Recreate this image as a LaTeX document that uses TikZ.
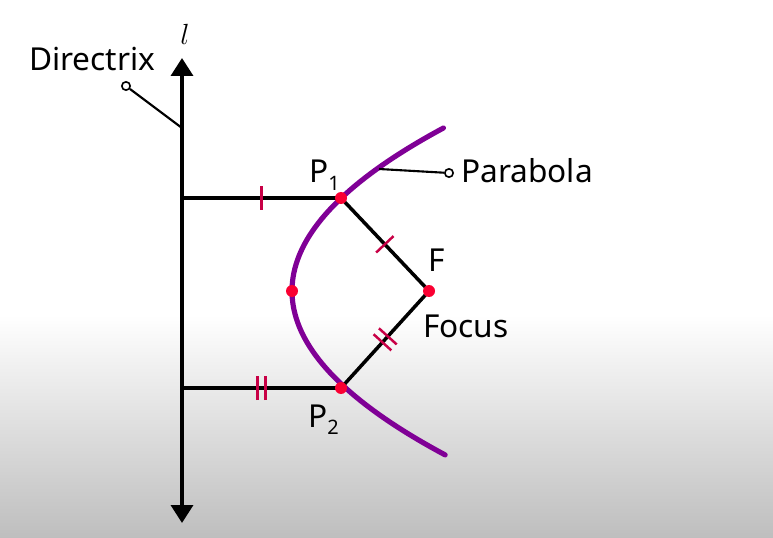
\documentclass[tikz,border=0pt]{standalone}
\usepackage{fontspec}
\setmainfont{Noto Sans}
\usetikzlibrary{arrows.meta,decorations.markings}
\definecolor{curvecol}{RGB}{128,0,150}
\definecolor{dotcol}{RGB}{250,0,50}
\definecolor{tickcol}{RGB}{200,0,70}
\definecolor{bggray}{RGB}{190,190,190}

\begin{document}
\begin{tikzpicture}[
  x=0.03cm, y=-0.03cm,
  lbl/.style={font=\fontsize{27}{30}\selectfont,inner sep=0pt},
  seg/.style={line width=3pt,black},
  axis/.style={line width=3pt,black,{Triangle[length=0.54cm,width=0.66cm]}-{Triangle[length=0.54cm,width=0.66cm]}},
  curve/.style={line width=4.4pt,curvecol,line cap=round},
  pin/.style={line width=1.8pt,black},
  pinend/.style={circle,draw=black,line width=1.4pt,fill=white,inner sep=0pt,minimum size=0.25cm},
  dot/.style={circle,fill=dotcol,inner sep=0pt,minimum size=0.36cm},
  tickline/.style={line width=2.1pt,tickcol},
  onetick/.style={postaction={decorate,decoration={markings,
      mark=at position 0.5 with {\draw[tickline] (0,-0.36cm) -- (0,0.36cm);}}}},
  twotick/.style={postaction={decorate,decoration={markings,
      mark=at position 0.5 with {\draw[tickline] (-0.12cm,-0.36cm) -- (-0.12cm,0.36cm);
                                 \draw[tickline] (0.12cm,-0.36cm) -- (0.12cm,0.36cm);}}}},
]
\useasboundingbox (0,0) rectangle (773,538);
% background
\fill[white] (0,0) rectangle (773,316);
\shade[top color=white,bottom color=bggray] (0,315) rectangle (773,538);

% directrix
\coordinate (ltop) at (182,58);
\coordinate (lbot) at (182,523);
\draw[axis] (lbot) -- (ltop);
\node[font=\fontsize{26}{28}\selectfont] (lname) at (185,34) {$l$};

% points
\coordinate (V) at (292,291);
\coordinate (F) at (429,291);
\coordinate (P1) at (341,198);
\coordinate (P2) at (341,388);
\coordinate (d1) at (182,198);
\coordinate (d2) at (182,388);

% parabola
\draw[curve] plot[domain=-1.63:1.64,samples=80] ({292+57*\x*\x},{291+100*\x});

% distances
\draw[seg,onetick] (d1) -- (P1);
\draw[seg,twotick] (d2) -- (P2);
\draw[seg,onetick] (P1) -- (F);
\draw[seg,twotick] (F) -- (P2);

\node[dot] (dP1) at (P1) {};
\node[dot] (dP2) at (P2) {};
\node[dot] (dV) at (V) {};
\node[dot] (dF) at (F) {};

% labels
\node[lbl,anchor=base west] (p1name) at (309,183)
  {P\raisebox{-6pt}{\fontsize{17}{18}\selectfont 1}};
\node[lbl,anchor=base west] (p2name) at (308,427)
  {P\raisebox{-6pt}{\fontsize{17}{18}\selectfont 2}};
\node[lbl,anchor=base west] (fname) at (428,272) {F};
\node[lbl,anchor=base west] (focus) at (423,338) {Focus};

% pointers
\node[lbl,anchor=base west] (dirtext) at (29,71) {Directrix};
\node[pinend] (dirpin) at (126,86) {};
\coordinate (dirfoot) at (182,128);
\draw[pin] (dirpin) -- (dirfoot);

\node[lbl,anchor=base west] (partext) at (461,183) {Parabola};
\node[pinend] (parpin) at (449,173) {};
\coordinate (parfoot) at (379,169);
\draw[pin] (parpin) -- (parfoot);
\end{tikzpicture}
\end{document}
